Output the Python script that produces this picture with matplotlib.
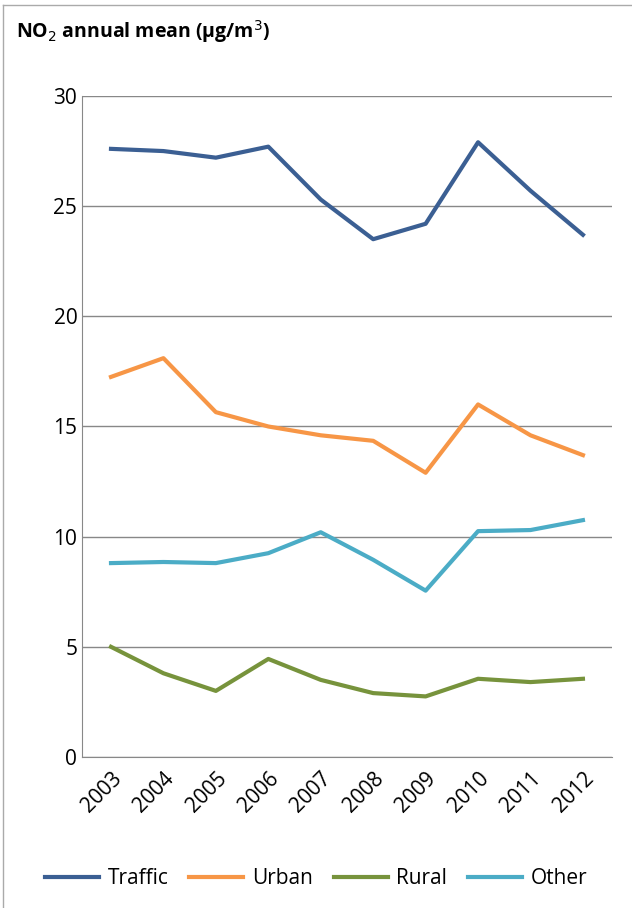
import matplotlib
matplotlib.use("Agg")
import matplotlib.pyplot as plt

years = [str(y) for y in range(2003, 2013)]
traffic = [27.6, 27.5, 27.2, 27.7, 25.3, 23.5, 24.2, 27.9, 25.7, 23.7]
urban = [17.25, 18.1, 15.65, 15.0, 14.6, 14.35, 12.9, 16.0, 14.6, 13.7]
rural = [5.0, 3.8, 3.0, 4.45, 3.5, 2.9, 2.75, 3.55, 3.4, 3.55]
other = [8.8, 8.85, 8.8, 9.25, 10.2, 8.95, 7.55, 10.25, 10.3, 10.75]

plt.rcParams["font.family"] = ["Open Sans", "DejaVu Sans"]
fig = plt.figure(figsize=(6.32, 9.08), dpi=100)
ax = fig.add_axes([0.13, 0.1663, 0.838, 0.728])
x = range(len(years))
ax.plot(x, traffic, color="#3B5F93", lw=3, label="Traffic")
ax.plot(x, urban, color="#F79646", lw=3, label="Urban")
ax.plot(x, rural, color="#77933C", lw=3, label="Rural")
ax.plot(x, other, color="#4BACC6", lw=3, label="Other")

ax.set_ylim(0, 30)
ax.set_yticks(range(0, 31, 5))
ax.set_xlim(-0.55, 9.55)
ax.set_xticks(list(x))
ax.set_xticklabels(years, rotation=45, ha="right", rotation_mode="anchor")
ax.tick_params(axis="both", labelsize=15, length=0)
ax.tick_params(axis="x", pad=8)
ax.grid(axis="y", color="#888888", lw=1)
ax.set_axisbelow(True)
for s in ["top", "right"]:
    ax.spines[s].set_visible(False)
ax.spines["left"].set_color("#888888")
ax.spines["bottom"].set_color("#888888")

fig.text(0.025, 0.965, "NO$_2$ annual mean (µg/m$^3$)", fontsize=14,
         fontweight="bold", va="center")
fig.legend(loc="center", bbox_to_anchor=(0.5, 0.032), ncol=4, frameon=False,
           fontsize=15, handlelength=2.6, handletextpad=0.4, columnspacing=1.0)
fig.add_artist(plt.Line2D([0.005, 0.005], [0, 0.995], color="#aaaaaa", lw=1))
fig.add_artist(plt.Line2D([0.005, 1], [0.995, 0.995], color="#aaaaaa", lw=1))
fig.savefig("out.png")
